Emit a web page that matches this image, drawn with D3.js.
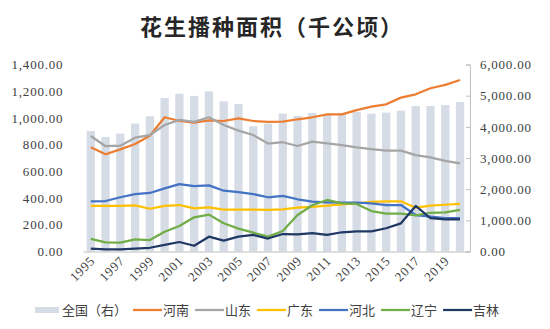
<!DOCTYPE html>
<html>
<head>
<meta charset="utf-8">
<script src="https://cdn.jsdelivr.net/npm/d3@7"></script>
<style>
  body { margin: 0; background: #fff; }
  svg text { fill: #404040; }
  .num { font-family: "Liberation Serif", "DejaVu Serif", serif; font-size: 13px; letter-spacing: 0.8px; }
  .cjk { font-family: "Noto Sans CJK SC", sans-serif; font-size: 13px; }
  .title { font-family: "Noto Sans CJK SC", sans-serif; font-size: 22px; font-weight: 700; letter-spacing: 2px; fill: #262626; }
</style>
</head>
<body>
<svg id="chart" width="550" height="329"></svg>
<script>
const years = d3.range(1995, 2021);

// 全国 (右轴)
const national = [3868, 3676, 3785, 4104, 4338, 4923, 5063, 4993, 5137, 4817, 4731, 4018, 4104,
  4424, 4354, 4443, 4402, 4443, 4475, 4424, 4456, 4520, 4667, 4667, 4699, 4795];

const henan = [780, 728, 765, 805, 867, 1005, 977, 964, 982, 977, 997, 977, 970,
  972, 990, 1005, 1027, 1027, 1059, 1084, 1102, 1152, 1177, 1222, 1247, 1284];
const shandong = [865, 788, 792, 852, 872, 947, 985, 970, 1005, 947, 905, 872, 808,
  818, 790, 822, 810, 797, 780, 767, 755, 755, 722, 705, 678, 660];
const guangdong = [341, 341, 341, 346, 320, 341, 348, 323, 331, 313, 313, 313, 311,
  316, 328, 335, 343, 353, 361, 371, 376, 376, 328, 343, 350, 356];
const hebei = [376, 378, 406, 430, 438, 473, 505, 490, 495, 455, 445, 430, 406,
  416, 391, 373, 368, 365, 365, 361, 348, 348, 273, 261, 249, 249];
const liaoning = [94, 69, 66, 91, 86, 148, 191, 256, 276, 211, 171, 141, 111,
  153, 273, 346, 386, 361, 356, 303, 283, 283, 271, 290, 293, 311];
const jilin = [21, 16, 16, 21, 28, 49, 71, 43, 111, 81, 111, 124, 97,
  131, 129, 138, 124, 144, 151, 151, 174, 211, 341, 249, 241, 241];

const leftTicks = [0, 200, 400, 600, 800, 1000, 1200, 1400];
const rightTicks = [0, 1000, 2000, 3000, 4000, 5000, 6000];
const yearLabels = years.filter((y) => y % 2 === 1);

const series = [
  { name: "河南", values: henan, color: "#ed7d31" },
  { name: "山东", values: shandong, color: "#a5a5a5" },
  { name: "广东", values: guangdong, color: "#ffc000" },
  { name: "河北", values: hebei, color: "#4472c4" },
  { name: "辽宁", values: liaoning, color: "#70ad47" },
  { name: "吉林", values: jilin, color: "#203864" },
];
const barColor = "#d6dce5";

const svg = d3.select("#chart");
const plotLeft = 83.4, plotRight = 467.4, plotTop = 64.5, plotBottom = 251.5;

const x = d3.scaleBand().domain(years).range([plotLeft, plotRight]).paddingInner(0.44).paddingOuter(0.22);
const yL = d3.scaleLinear().domain([0, 1400]).range([plotBottom, plotTop]);
const yR = d3.scaleLinear().domain([0, 6000]).range([plotBottom, plotTop]);
const fmt = d3.format(",.2f");

svg.append("text")
  .attr("class", "title")
  .attr("x", 272)
  .attr("y", 35)
  .attr("text-anchor", "middle")
  .text("花生播种面积（千公顷）");

// bars on right axis
svg.append("g")
  .selectAll("rect")
  .data(national)
  .join("rect")
  .attr("x", (d, i) => x(years[i]))
  .attr("y", (d) => yR(d))
  .attr("width", x.bandwidth())
  .attr("height", (d) => plotBottom - yR(d))
  .attr("fill", barColor);

// left axis labels only
const axL = svg.append("g")
  .attr("transform", `translate(${plotLeft},0)`)
  .call(d3.axisLeft(yL).tickValues(leftTicks).tickFormat(fmt).tickSize(0).tickPadding(20));
axL.select(".domain").remove();
axL.selectAll("text").attr("class", "num").attr("fill", "#404040");

// right axis
const axR = svg.append("g")
  .attr("transform", `translate(${plotRight + 2.5},0)`)
  .call(d3.axisRight(yR).tickValues(rightTicks).tickFormat(fmt).tickSizeInner(-4).tickSizeOuter(-4).tickPadding(10));
axR.select(".domain").attr("stroke", "#bfbfbf");
axR.selectAll(".tick line").attr("stroke", "#bfbfbf");
axR.selectAll("text").attr("class", "num").attr("fill", "#404040");

// baseline
svg.append("line")
  .attr("x1", plotLeft).attr("x2", plotRight + 2.5)
  .attr("y1", plotBottom + 0.5).attr("y2", plotBottom + 0.5)
  .attr("stroke", "#bfbfbf");

// year labels
svg.append("g")
  .selectAll("text")
  .data(yearLabels)
  .join("text")
  .attr("class", "num")
  .attr("text-anchor", "end")
  .attr("transform", (d) => `translate(${x(d) + x.bandwidth() / 2 + 5},${plotBottom + 10}) rotate(-45)`)
  .text((d) => d);

// province lines
const line = d3.line()
  .x((d, i) => x(years[i]) + x.bandwidth() / 2)
  .y((d) => yL(d));

svg.append("g")
  .selectAll("path")
  .data(series)
  .join("path")
  .attr("d", (d) => line(d.values))
  .attr("fill", "none")
  .attr("stroke", (d) => d.color)
  .attr("stroke-width", 2.25)
  .attr("stroke-linejoin", "round");

// legend
const legendItems = [{ name: "全国（右）", color: barColor, bar: true }].concat(series);
const legend = svg.append("g").attr("transform", "translate(0,310)");
let lx = 35;
legendItems.forEach((item) => {
  if (item.bar) {
    legend.append("rect").attr("x", lx).attr("y", -3).attr("width", 24).attr("height", 6).attr("fill", item.color);
    lx += 27;
  } else {
    legend.append("line").attr("x1", lx).attr("x2", lx + 29).attr("y1", 0).attr("y2", 0)
      .attr("stroke", item.color).attr("stroke-width", 2.25);
    lx += 30;
  }
  const t = legend.append("text").attr("class", "cjk").attr("x", lx).attr("y", 4.5).text(item.name);
  lx += t.node().getComputedTextLength() + 6;
});
</script>
</body>
</html>
